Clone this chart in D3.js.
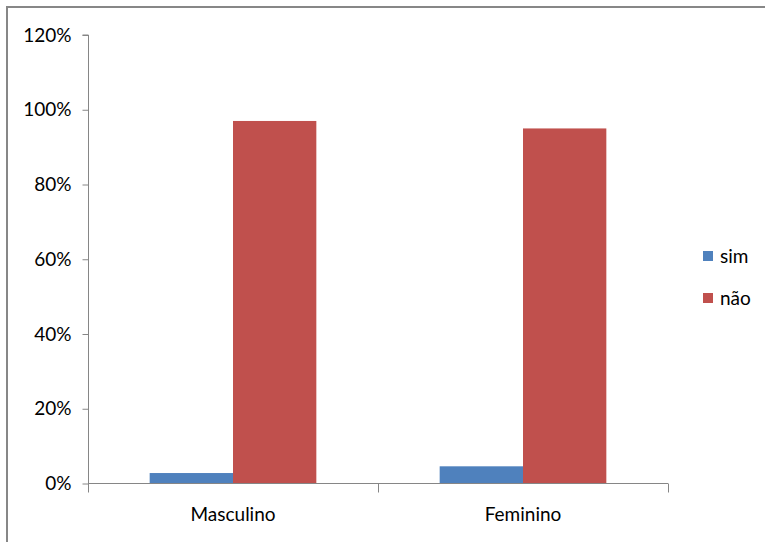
<!DOCTYPE html>
<html><head><meta charset="utf-8">
<script src="https://cdn.jsdelivr.net/npm/d3@7"></script>
<style>body{margin:0;background:#fff}svg{display:block}</style>
</head><body>
<script>
const categories = ["Masculino", "Feminino"];
const seriesNames = ["sim", "não"];
const simValues = [2.8, 4.6];
const naoValues = [97, 95];
const yTicks = [0, 20, 40, 60, 80, 100, 120];
const colors = ["#4F81BD", "#C0504D"];

const W = 765, H = 542;
const svg = d3.select("body").append("svg").attr("width", W).attr("height", H);
const font = "Lato, 'Open Sans', sans-serif";

svg.append("rect").attr("x", 7).attr("y", 7).attr("width", W + 10).attr("height", H + 10)
  .attr("fill", "#fff").attr("stroke", "#878787").attr("stroke-width", 2);

const x0 = d3.scaleBand().domain(categories).range([88, 668]).padding(0);
const x1 = d3.scaleBand().domain(seriesNames).range([0, x0.bandwidth()]).paddingInner(0).paddingOuter(0.74);
const y = d3.scaleLinear().domain([0, 120]).range([483.5, 35]);

// y axis
const gy = svg.append("g").attr("transform", "translate(88.5,0)")
  .call(d3.axisLeft(y).tickValues(yTicks).tickFormat(d => d + "%").tickSize(6).tickPadding(11));
gy.select(".domain").attr("stroke", "#868686").attr("d", `M-6,${y(120)}H0V${y(0)}`);
gy.selectAll(".tick line").attr("stroke", "#868686");
gy.selectAll(".tick text").attr("font-family", font).attr("font-size", 19).attr("fill", "#000");

// bars
const data = categories.map((c, i) => ({cat: c, vals: [simValues[i], naoValues[i]]}));
const groups = svg.append("g").selectAll("g").data(data).join("g")
  .attr("transform", d => `translate(${x0(d.cat)},0)`);
groups.selectAll("rect").data(d => d.vals.map((v, j) => ({s: seriesNames[j], v, j})))
  .join("rect")
  .attr("x", d => x1(d.s)).attr("width", x1.bandwidth())
  .attr("y", d => y(d.v)).attr("height", d => y(0) - y(d.v))
  .attr("fill", d => colors[d.j]);

// x axis
const gx = svg.append("g").attr("transform", `translate(0,${y(0)})`)
  .call(d3.axisBottom(x0).tickSize(0).tickPadding(24));
gx.select(".domain").attr("stroke", "#868686").attr("d", `M88,0H668`);
gx.selectAll(".tick text").attr("font-family", font).attr("font-size", 19).attr("fill", "#000");
const bounds = [88, 378, 668];
gx.selectAll(".bt").data(bounds).join("line").attr("class", "bt")
  .attr("x1", d => d + 0.5).attr("x2", d => d + 0.5).attr("y1", 0).attr("y2", 9)
  .attr("stroke", "#868686");

// legend
const leg = svg.append("g").selectAll("g").data(seriesNames).join("g")
  .attr("transform", (d, i) => `translate(703,${251 + i * 42})`);
leg.append("rect").attr("width", 10).attr("height", 10).attr("fill", (d, i) => colors[i]);
leg.append("text").attr("x", 17).attr("y", 5).attr("dy", "0.35em")
  .attr("font-family", font).attr("font-size", 19).text(d => d);
</script>
</body></html>
